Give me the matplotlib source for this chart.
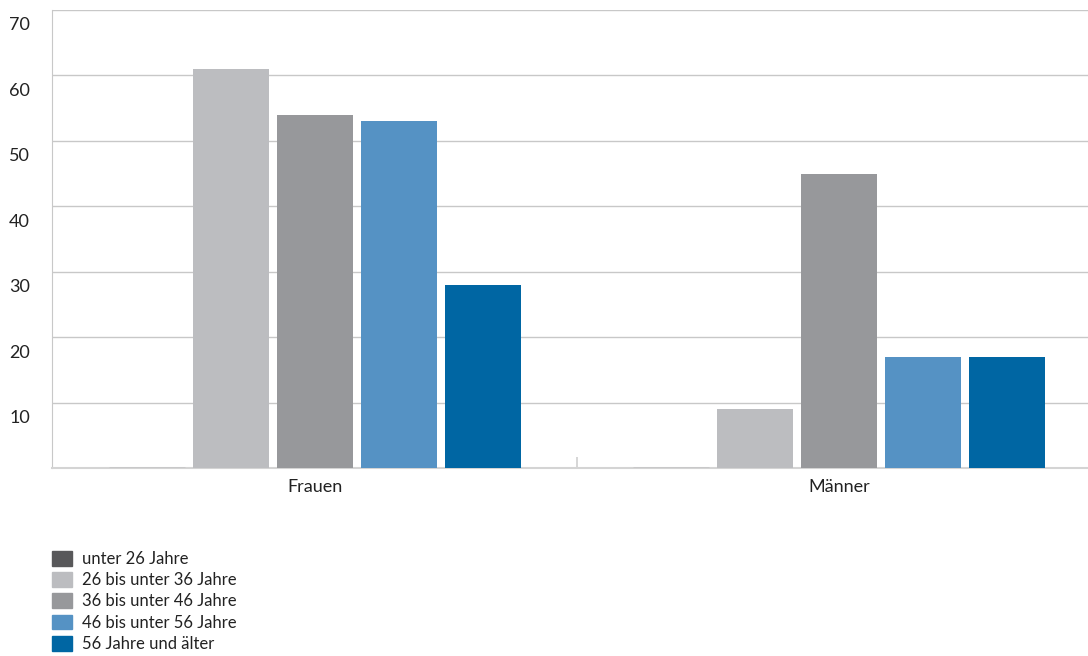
import matplotlib
matplotlib.use("Agg")
import matplotlib.pyplot as plt
import matplotlib.transforms as mtransforms
import numpy as np

plt.rcParams['font.family'] = ['Lato', 'DejaVu Sans']

groups = ["Frauen", "Männer"]
series = ["unter 26 Jahre", "26 bis unter 36 Jahre", "36 bis unter 46 Jahre",
          "46 bis unter 56 Jahre", "56 Jahre und älter"]
values = {
    "unter 26 Jahre":        [0, 0],
    "26 bis unter 36 Jahre": [61, 9],
    "36 bis unter 46 Jahre": [54, 45],
    "46 bis unter 56 Jahre": [53, 17],
    "56 Jahre und älter":    [28, 17],
}
colors = ["#58585a", "#bcbdc0", "#97989b", "#5592c4", "#0066a3"]
yticks = [10, 20, 30, 40, 50, 60, 70]

fig = plt.figure(figsize=(10.88, 6.56), dpi=100)
ax = fig.add_axes([52 / 1088, 188 / 656, 1 - 52 / 1088, 458 / 656])

x = np.arange(len(groups))
step = 84 / 524
width = 76 / 524
handles = []
for i, (name, col) in enumerate(zip(series, colors)):
    offs = (i - 2) * step
    ax.bar(x + offs, values[name], width, color=col, zorder=3,
           edgecolor="#9a9a9c" if i == 0 else "none",
           linewidth=1.0 if i == 0 else 0)
    handles.append(plt.Rectangle((0, 0), 1, 1, color=col))

ax.set_xlim(-(315 - 52) / 524, 1 + (1088 - 839) / 524)
ax.set_ylim(0, 70)

ax.set_yticks(yticks)
ax.set_yticklabels([str(v) for v in yticks], fontsize=13, color="#222222")
ax.tick_params(axis="y", length=0, pad=16)
offset = mtransforms.ScaledTranslation(0, -10 / 72, fig.dpi_scale_trans)
for lbl in ax.get_yticklabels():
    lbl.set_transform(lbl.get_transform() + offset)

ax.set_xticks(x)
ax.set_xticklabels(groups, fontsize=13, color="#222222")
ax.tick_params(axis="x", length=0, pad=8)
ax.set_xticks([0.5], minor=True)
ax.tick_params(axis="x", which="minor", direction="in", length=8,
               width=1.2, color="#cfcfcf")

ax.grid(axis="y", color="#c8c8c8", linewidth=1.0, zorder=0)
for side in ["top", "right"]:
    ax.spines[side].set_visible(False)
ax.spines["left"].set_color("#c8c8c8")
ax.spines["bottom"].set_color("#d4d4d4")
ax.spines["bottom"].set_linewidth(1.5)

fig.legend(handles, series, loc="upper left",
           bbox_to_anchor=(52 / 1088, 1 - 551 / 656),
           frameon=False, fontsize=12, handlelength=1.2, handleheight=1.0,
           handletextpad=0.6, labelspacing=0.3, borderaxespad=0,
           borderpad=0, labelcolor="#222222")

fig.savefig("out.png", dpi=100)
